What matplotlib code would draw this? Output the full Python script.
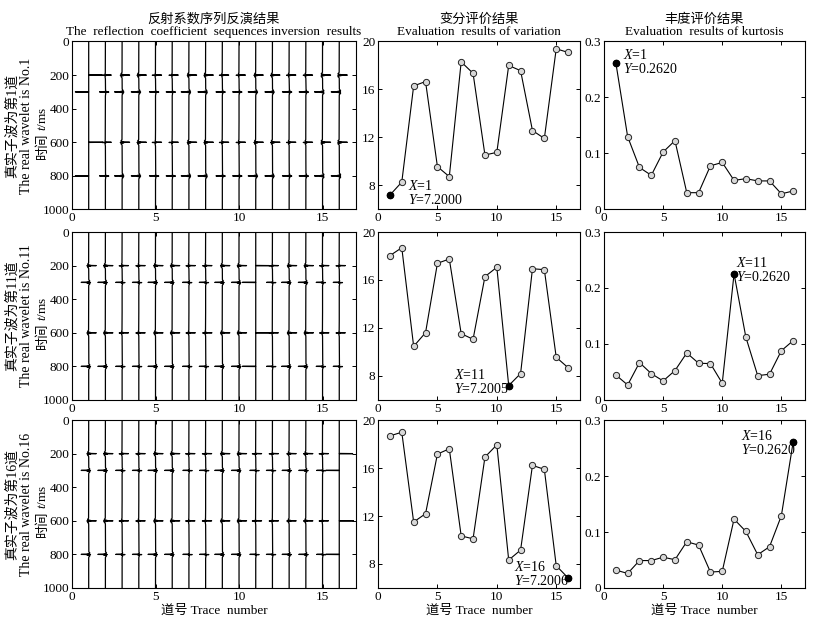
import numpy as np
import matplotlib
matplotlib.use("Agg")
import matplotlib.pyplot as plt

plt.rcParams['font.family'] = ['Liberation Serif', 'Noto Sans CJK SC', 'DejaVu Sans']
plt.rcParams['mathtext.fontset'] = 'custom'
plt.rcParams['mathtext.rm'] = 'Liberation Serif'
plt.rcParams['mathtext.it'] = 'Liberation Serif:italic'
plt.rcParams['font.size'] = 9.5

# trace numbers
traces = np.arange(1, 17)

# which trace holds the real wavelet, one per row
true_trace = [1, 11, 16]

# reflection coefficient events (ms) and spike amplitudes (in trace-spacing units)
event_t = [200, 300, 600, 800]
event_amp = [0.8, -0.8, 0.85, -0.8]

# size of the residual wavelet left on each trace after inversion
blob_amp = [
    [0.0, 0.05, 0.15, 0.15, 0.06, 0.06, 0.16, 0.16, 0.08, 0.08, 0.15, 0.15, 0.1, 0.1, 0.18, 0.18],
    [0.15, 0.15, 0.08, 0.08, 0.15, 0.15, 0.08, 0.08, 0.15, 0.15, 0.0, 0.05, 0.15, 0.15, 0.08, 0.06],
    [0.15, 0.15, 0.08, 0.08, 0.15, 0.15, 0.06, 0.06, 0.15, 0.15, 0.05, 0.06, 0.12, 0.12, 0.05, 0.0],
]

# variation evaluation
variation = [
    [7.20, 8.28, 16.3, 16.66, 9.57, 8.74, 18.3, 17.35, 10.54, 10.76, 18.0, 17.57, 12.58, 11.92, 19.39, 19.09],
    [18.03, 18.69, 10.47, 11.61, 17.39, 17.75, 11.53, 11.06, 16.28, 17.06, 7.2005, 8.2, 16.94, 16.86, 9.56, 8.69],
    [18.68, 18.98, 11.5, 12.19, 17.16, 17.6, 10.34, 10.1, 16.91, 17.93, 8.33, 9.16, 16.22, 15.89, 7.86, 6.84],
]

# kurtosis evaluation
kurtosis = [
    [0.262, 0.130, 0.075, 0.061, 0.1026, 0.123, 0.030, 0.030, 0.078, 0.084, 0.052, 0.055, 0.051, 0.051, 0.028, 0.033],
    [0.0447, 0.0268, 0.0668, 0.0471, 0.034, 0.0525, 0.084, 0.0656, 0.065, 0.030, 0.2254, 0.112, 0.0435, 0.046, 0.088, 0.106],
    [0.032, 0.026, 0.049, 0.049, 0.055, 0.0505, 0.0826, 0.0766, 0.0285, 0.0297, 0.123, 0.101, 0.0594, 0.0737, 0.129, 0.261],
]

var_label = ['$X$=1\n$Y$=7.2000', '$X$=11\n$Y$=7.2005', '$X$=16\n$Y$=7.2006']
kur_label = ['$X$=1\n$Y$=0.2620', '$X$=11\n$Y$=0.2620', '$X$=16\n$Y$=0.2620']
var_text_xy = [(2.5, 8.5), (6.4, 8.7), (11.45, 8.3)]
kur_text_xy = [(1.6, 0.288), (11.2, 0.257), (11.6, 0.284)]

row_name = ['真实子波为第1道\nThe real wavelet is No.1',
            '真实子波为第11道\nThe real wavelet is No.11',
            '真实子波为第16道\nThe real wavelet is No.16']

t = np.arange(0, 1001)


def inverted_trace(k, row):
    s = np.zeros(len(t))
    if k == true_trace[row]:
        for et, ea in zip(event_t, event_amp):
            s[et] = ea
        return s
    b = blob_amp[row][k - 1]
    for et, ea in zip(event_t, event_amp):
        # spike pair so the dash crosses the trace
        s[et] += 0.3 * np.sign(ea)
        s[et + 1] += -0.25 * np.sign(ea)
        # smeared residual wavelet
        tau = (t - et) / 7.0
        s += b * np.sign(ea) * (1 - 2 * tau ** 2) * np.exp(-tau ** 2)
    return s


def style(ax):
    ax.tick_params(direction='in', top=True, right=True, length=3, width=0.7, pad=2)
    for sp in ax.spines.values():
        sp.set_linewidth(0.8)


fig = plt.figure(figsize=(8.2, 6.24), dpi=100)

row_y = [0.6643, 0.359, 0.0577]
row_h = 0.2692
col_x = [0.0878, 0.461, 0.7366]
col_w = [0.3463, 0.2463, 0.2451]

for r in range(3):
    # reflection coefficient traces
    ax = fig.add_axes([col_x[0], row_y[r], col_w[0], row_h])
    for k in traces:
        ax.plot(k + inverted_trace(k, r), t, color='k', lw=0.9)
    ax.set_xlim(0, 17)
    ax.set_ylim(1000, 0)
    ax.set_xticks([0, 5, 10, 15])
    ax.set_yticks([0, 200, 400, 600, 800, 1000])
    style(ax)
    ax.text(-0.185, 0.5, row_name[r], transform=ax.transAxes, rotation=90,
            ha='center', va='center', fontsize=10, linespacing=1.15)
    ax.text(-0.103, 0.46, '时间', transform=ax.transAxes, rotation=90,
            ha='center', va='top', fontsize=9.5)
    ax.text(-0.103, 0.47, '$t$/ms', transform=ax.transAxes, rotation=90,
            ha='center', va='bottom', fontsize=9.5)
    if r == 0:
        ax.set_title('反射系数序列反演结果\nThe  reflection  coefficient  sequences inversion  results',
                     fontsize=9.5, linespacing=1.0, pad=5)
    if r == 2:
        ax.set_xlabel('道号 Trace  number', labelpad=1)

    # variation
    ax = fig.add_axes([col_x[1], row_y[r], col_w[1], row_h])
    ax.plot(traces, variation[r], '-', color='k', lw=0.8)
    ax.plot(traces, variation[r], 'o', ms=4.5, mfc='#d8d8d8', mec='#222222', mew=0.7)
    kb = true_trace[r] - 1
    ax.plot(traces[kb], variation[r][kb], 'o', ms=4.5, color='k')
    ax.text(var_text_xy[r][0], var_text_xy[r][1], var_label[r], ha='left', va='top',
            fontsize=10, linespacing=1.0)
    ax.set_xlim(0, 17)
    ax.set_ylim(6, 20)
    ax.set_xticks([0, 5, 10, 15])
    ax.set_yticks([8, 12, 16, 20])
    style(ax)
    if r == 0:
        ax.set_title('变分评价结果\nEvaluation  results of variation', fontsize=9.5,
                     linespacing=1.0, pad=5)
    if r == 2:
        ax.set_xlabel('道号 Trace  number', labelpad=1)

    # kurtosis
    ax = fig.add_axes([col_x[2], row_y[r], col_w[2], row_h])
    ax.plot(traces, kurtosis[r], '-', color='k', lw=0.8)
    ax.plot(traces, kurtosis[r], 'o', ms=4.5, mfc='#d8d8d8', mec='#222222', mew=0.7)
    ax.plot(traces[kb], kurtosis[r][kb], 'o', ms=4.5, color='k')
    ax.text(kur_text_xy[r][0], kur_text_xy[r][1], kur_label[r], ha='left', va='top',
            fontsize=10, linespacing=1.0)
    ax.set_xlim(0, 17)
    ax.set_ylim(0, 0.3)
    ax.set_xticks([0, 5, 10, 15])
    ax.set_yticks([0, 0.1, 0.2, 0.3])
    ax.set_yticklabels(['0', '0.1', '0.2', '0.3'])
    style(ax)
    if r == 0:
        ax.set_title('丰度评价结果\nEvaluation  results of kurtosis', fontsize=9.5,
                     linespacing=1.0, pad=5)
    if r == 2:
        ax.set_xlabel('道号 Trace  number', labelpad=1)

fig.savefig('out.png', dpi=100)
